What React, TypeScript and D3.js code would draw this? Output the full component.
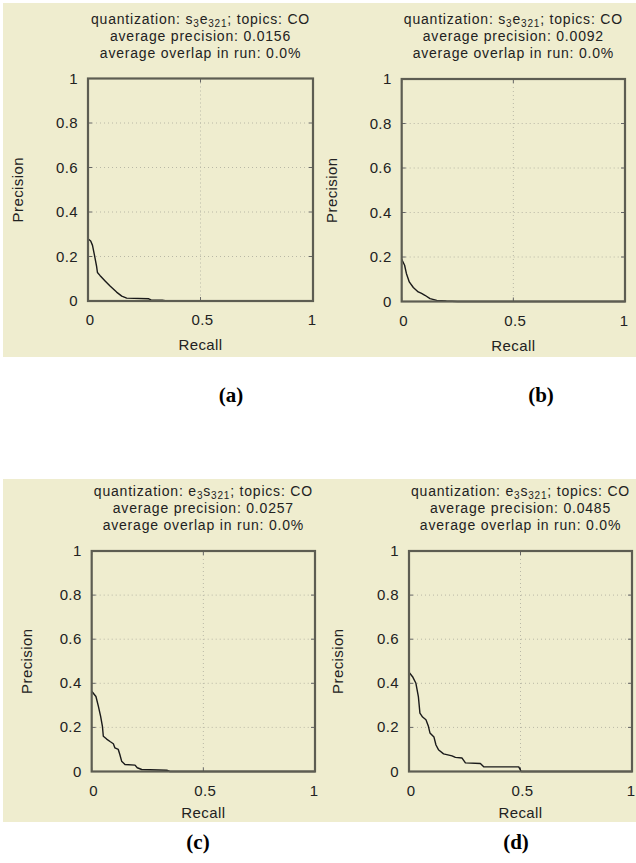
import * as d3 from 'd3';

// values
const recallA = [0, 0.012, 0.02, 0.028, 0.038, 0.042, 0.053, 0.076, 0.098, 0.127, 0.15, 0.172, 0.27, 0.28, 0.33, 0.35, 1];
const precisionA = [0.28, 0.27, 0.25, 0.21, 0.157, 0.128, 0.115, 0.09, 0.067, 0.04, 0.022, 0.013, 0.01, 0.005, 0.004, 0, 0];

const recallB = [0, 0.013, 0.021, 0.034, 0.052, 0.074, 0.089, 0.104, 0.127, 0.157, 0.2, 0.25, 1];
const precisionB = [0.19, 0.163, 0.126, 0.088, 0.063, 0.043, 0.036, 0.028, 0.013, 0.005, 0.002, 0, 0];

const recallC = [0, 0.019, 0.03, 0.04, 0.048, 0.052, 0.067, 0.082, 0.097, 0.104, 0.119, 0.126, 0.134, 0.149, 0.194, 0.204, 0.224, 0.336, 0.35, 1];
const precisionC = [0.364, 0.34, 0.295, 0.25, 0.205, 0.16, 0.147, 0.136, 0.126, 0.107, 0.1, 0.077, 0.047, 0.032, 0.029, 0.017, 0.009, 0.006, 0, 0];

const recallD = [0, 0.016, 0.031, 0.042, 0.049, 0.061, 0.076, 0.087, 0.094, 0.112, 0.121, 0.132, 0.155, 0.193, 0.208, 0.238, 0.253, 0.32, 0.335, 0.492, 0.503, 1];
const precisionD = [0.45, 0.43, 0.4, 0.34, 0.265, 0.247, 0.235, 0.205, 0.175, 0.156, 0.12, 0.099, 0.08, 0.071, 0.064, 0.061, 0.039, 0.036, 0.021, 0.021, 0, 0];

const quantizations = [
  ['s', '3', 'e', '321'],
  ['s', '3', 'e', '321'],
  ['e', '3', 's', '321'],
  ['e', '3', 's', '321'],
];
const avgPrecision = ['0.0156', '0.0092', '0.0257', '0.0485'];
const captions = ['(a)', '(b)', '(c)', '(d)'];
const xTicks = [0, 0.5, 1];
const yTicks = [0, 0.2, 0.4, 0.6, 0.8, 1];

const series = [
  [recallA, precisionA],
  [recallB, precisionB],
  [recallC, precisionC],
  [recallD, precisionD],
];

// layout of each panel in page pixels
const panels = [
  { x0: 88, x1: 313, yTop: 78.5, yBot: 301, labX: 18, recallDy: 49, capX: 231, capY: 402 },
  { x0: 401.7, x1: 625, yTop: 79, yBot: 301.5, labX: 332, recallDy: 49, capX: 541, capY: 402 },
  { x0: 91.7, x1: 315, yTop: 551, yBot: 771.5, labX: 27, recallDy: 46, capX: 198, capY: 849 },
  { x0: 409, x1: 632, yTop: 551, yBot: 771.5, labX: 338, recallDy: 46, capX: 516, capY: 849 },
];

const BG = '#efedcf';
const FONT = "'Liberation Sans', Arial, sans-serif";

const Panel = ({ i }) => {
  const p = panels[i];
  const [rec, prec] = series[i];
  const x = d3.scaleLinear().domain([0, 1]).range([p.x0, p.x1]);
  const y = d3.scaleLinear().domain([0, 1]).range([p.yBot, p.yTop]);
  const line = d3
    .line()
    .x((d) => x(d[0]))
    .y((d) => y(d[1]));
  const pts = rec.map((r, k) => [r, prec[k]]);
  const q = quantizations[i];
  const cx = (p.x0 + p.x1) / 2;
  const cy = (p.yTop + p.yBot) / 2;

  return (
    <g>
      {/* title */}
      <g fontFamily={FONT} fontSize={14} fill='#222' textAnchor='middle' letterSpacing={0.8}>
        <text x={cx} y={p.yTop - 55}>
          {'quantization: '}
          {q[0]}
          <tspan fontSize={10} dy={3}>{q[1]}</tspan>
          <tspan dy={-3}>{q[2]}</tspan>
          <tspan fontSize={10} dy={3}>{q[3]}</tspan>
          <tspan dy={-3}>{'; topics: CO'}</tspan>
        </text>
        <text x={cx} y={p.yTop - 38}>{`average precision: ${avgPrecision[i]}`}</text>
        <text x={cx} y={p.yTop - 21}>average overlap in run: 0.0%</text>
      </g>

      {/* grid */}
      {yTicks.slice(1, -1).map((t) => (
        <line key={'gy' + t} x1={p.x0} x2={p.x1} y1={y(t)} y2={y(t)} stroke='#b9b8a6' strokeDasharray='1,3' />
      ))}
      {xTicks.slice(1, -1).map((t) => (
        <line key={'gx' + t} x1={x(t)} x2={x(t)} y1={p.yTop} y2={p.yBot} stroke='#b9b8a6' strokeDasharray='1,3' />
      ))}

      {/* tick marks */}
      {yTicks.map((t) => (
        <g key={'ty' + t} stroke='#666'>
          <line x1={p.x0} x2={p.x0 + 4} y1={y(t)} y2={y(t)} />
          <line x1={p.x1 - 4} x2={p.x1} y1={y(t)} y2={y(t)} />
        </g>
      ))}
      {xTicks.map((t) => (
        <g key={'tx' + t} stroke='#666'>
          <line x1={x(t)} x2={x(t)} y1={p.yBot} y2={p.yBot - 4} />
          <line x1={x(t)} x2={x(t)} y1={p.yTop} y2={p.yTop + 4} />
        </g>
      ))}

      {/* curve */}
      <path d={line(pts)} fill='none' stroke='#1a1a1a' strokeWidth={1.4} strokeLinejoin='round' />

      {/* frame */}
      <rect x={p.x0} y={p.yTop} width={p.x1 - p.x0} height={p.yBot - p.yTop} fill='none' stroke='#5d5d52' strokeWidth={2.2} />

      {/* tick labels */}
      <g fontFamily={FONT} fontSize={15} fill='#222' letterSpacing={0.4}>
        {yTicks.map((t) => (
          <text key={'ly' + t} x={p.x0 - 10} y={y(t) + 5} textAnchor='end'>
            {d3.format('~g')(t)}
          </text>
        ))}
        {xTicks.map((t) => (
          <text key={'lx' + t} x={x(t) + (t === 1 ? -1 : 2)} y={p.yBot + 24} textAnchor='middle'>
            {d3.format('~g')(t)}
          </text>
        ))}
      </g>

      {/* axis titles */}
      <text x={cx} y={p.yBot + p.recallDy} fontFamily={FONT} fontSize={15} fill='#222' textAnchor='middle' letterSpacing={0.4}>
        Recall
      </text>
      <text
        transform={`translate(${p.labX + 5},${cy}) rotate(-90)`}
        fontFamily={FONT}
        fontSize={15}
        fill='#222'
        textAnchor='middle'
        letterSpacing={0.4}
      >
        Precision
      </text>

      {/* caption */}
      <text x={p.capX} y={p.capY} fontFamily="'Liberation Serif', 'Times New Roman', serif" fontSize={21} fontWeight='bold' fill='#000' textAnchor='middle'>
        {captions[i]}
      </text>
    </g>
  );
};

export default function App() {
  return (
    <svg width={636} height={863} style={{ position: 'absolute', left: 0, top: 0, background: '#fff' }}>
      <rect x={3} y={3} width={633} height={354} fill={BG} />
      <rect x={3} y={479} width={633} height={343} fill={BG} />
      {panels.map((_, i) => (
        <Panel key={i} i={i} />
      ))}
    </svg>
  );
}
